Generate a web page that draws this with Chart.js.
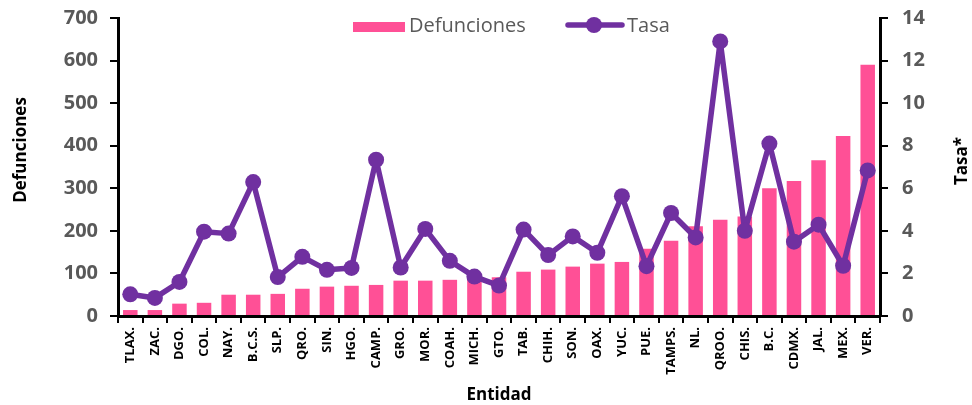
<!DOCTYPE html>
<html>
<head>
<meta charset="utf-8">
<script src="https://cdn.jsdelivr.net/npm/chart.js@4"></script>
<style>
  body { margin: 0; background: #fff; }
  #wrap { width: 972px; height: 405px; }
</style>
</head>
<body>
<div id="wrap"><canvas id="chart" width="972" height="405"></canvas></div>
<script>
// Datos por entidad
const entidades = ['TLAX.', 'ZAC.', 'DGO.', 'COL.', 'NAY.', 'B.C.S.', 'SLP.', 'QRO.', 'SIN.', 'HGO.',
    'CAMP.', 'GRO.', 'MOR.', 'COAH.', 'MICH.', 'GTO.', 'TAB.', 'CHIH.', 'SON.', 'OAX.', 'YUC.',
    'PUE.', 'TAMPS.', 'NL.', 'QROO.', 'CHIS.', 'B.C.', 'CDMX.', 'JAL.', 'MEX.', 'VER.'];
const defunciones = [14, 14, 29, 31, 50, 50, 52, 64, 69, 71, 73, 83, 83, 85, 88, 91, 104, 109, 116,
    123, 127, 158, 177, 211, 226, 234, 300, 317, 366, 423, 590];
const tasa = [1.02, 0.85, 1.6, 3.96, 3.87, 6.29, 1.83, 2.78, 2.17, 2.26, 7.34, 2.28, 4.09, 2.59,
    1.85, 1.43, 4.06, 2.86, 3.74, 2.97, 5.63, 2.34, 4.84, 3.69, 12.9, 4.0, 8.1, 3.49, 4.29, 2.36, 6.84];

const PINK = '#FF5096';
const PURPLE = '#7030A0';
const GRAY = '#595959';
const FONT = '"Open Sans", Lato, sans-serif';

// Leyenda y títulos de los ejes Y (ambos girados -90)
const extras = {
    id: 'extras',
    afterDraw(chart) {
        const ctx = chart.ctx;
        ctx.save();

        // títulos verticales
        ctx.fillStyle = '#000';
        ctx.font = 'bold 17px ' + FONT;
        ctx.textAlign = 'center';
        ctx.textBaseline = 'middle';
        ctx.translate(21, 150);
        ctx.rotate(-Math.PI / 2);
        ctx.fillText('Defunciones', 0, 0);
        ctx.setTransform(1, 0, 0, 1, 0, 0);
        ctx.translate(962, 161);
        ctx.rotate(-Math.PI / 2);
        ctx.fillText('Tasa*', 0, 0);
        ctx.setTransform(1, 0, 0, 1, 0, 0);

        // leyenda
        ctx.font = '20px ' + FONT;
        ctx.textAlign = 'left';
        ctx.fillStyle = PINK;
        ctx.fillRect(353, 22, 52, 10);
        ctx.fillStyle = GRAY;
        ctx.fillText('Defunciones', 409, 26);

        ctx.strokeStyle = PURPLE;
        ctx.lineWidth = 5.5;
        ctx.lineCap = 'round';
        ctx.beginPath();
        ctx.moveTo(568, 25);
        ctx.lineTo(622, 25);
        ctx.stroke();
        ctx.fillStyle = PURPLE;
        ctx.beginPath();
        ctx.arc(594, 25, 8, 0, Math.PI * 2);
        ctx.fill();
        ctx.fillStyle = GRAY;
        ctx.fillText('Tasa', 627, 26);
        ctx.restore();
    }
};

new Chart(document.getElementById('chart'), {
    type: 'bar',
    data: {
        labels: entidades,
        datasets: [
            {
                type: 'line',
                label: 'Tasa',
                data: tasa,
                yAxisID: 'y1',
                borderColor: PURPLE,
                backgroundColor: PURPLE,
                borderWidth: 5.5,
                borderJoinStyle: 'round',
                borderCapStyle: 'round',
                pointRadius: 8,
                pointHoverRadius: 8,
                pointBorderWidth: 0,
                tension: 0,
                order: 0
            },
            {
                type: 'bar',
                label: 'Defunciones',
                data: defunciones,
                yAxisID: 'y',
                backgroundColor: PINK,
                categoryPercentage: 1,
                barPercentage: 0.59,
                order: 1
            }
        ]
    },
    options: {
        responsive: false,
        animation: false,
        layout: { padding: { top: 18, left: 0, right: 0, bottom: 0 } },
        plugins: {
            legend: { display: false },
            tooltip: { enabled: false }
        },
        scales: {
            x: {
                offset: true,
                grid: {
                    display: true,
                    offset: true,
                    drawOnChartArea: false,
                    drawTicks: true,
                    tickLength: 7,
                    color: '#000',
                    lineWidth: 2
                },
                border: { color: '#000', width: 3 },
                ticks: {
                    color: '#000',
                    font: { family: FONT, size: 13, weight: 'bold' },
                    minRotation: 90,
                    maxRotation: 90,
                    autoSkip: false,
                    padding: 4
                },
                title: {
                    display: true,
                    text: 'Entidad',
                    color: '#000',
                    font: { family: FONT, size: 17, weight: 'bold' },
                    padding: { top: 0, bottom: 0 }
                },
                afterFit(scale) { scale.height = 89; }
            },
            y: {
                position: 'left',
                min: 0,
                max: 700,
                ticks: {
                    stepSize: 100,
                    color: GRAY,
                    font: { family: FONT, size: 20, weight: 'bold' },
                    padding: 12
                },
                grid: {
                    drawOnChartArea: false,
                    tickLength: 8,
                    color: '#000',
                    lineWidth: 2
                },
                border: { color: '#000', width: 3 },
                afterFit(scale) { scale.width = 118; scale.paddingTop = 0; }
            },
            y1: {
                position: 'right',
                min: 0,
                max: 14,
                ticks: {
                    stepSize: 2,
                    color: GRAY,
                    font: { family: FONT, size: 20, weight: 'bold' },
                    padding: 14
                },
                grid: {
                    drawOnChartArea: false,
                    tickLength: 8,
                    color: '#000',
                    lineWidth: 2
                },
                border: { color: '#000', width: 3 },
                afterFit(scale) { scale.width = 92; scale.paddingTop = 0; }
            }
        }
    },
    plugins: [extras]
});
</script>
</body>
</html>
